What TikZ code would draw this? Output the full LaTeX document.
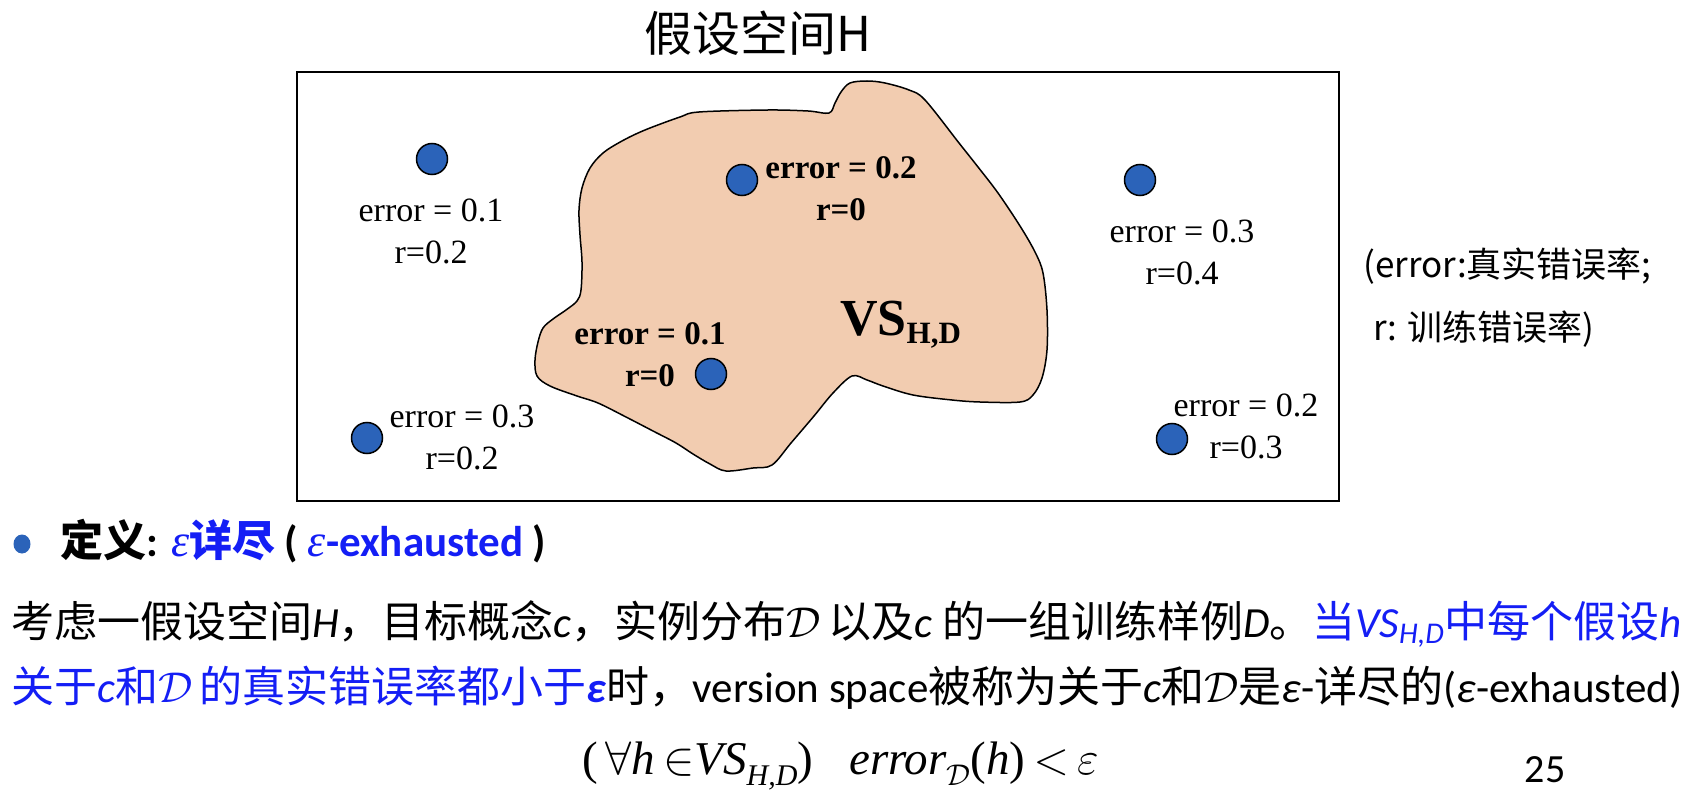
\RequirePackage{fix-cm}
\documentclass[tikz,border=0pt]{standalone}
\usepackage{fontspec}
\usetikzlibrary{shapes.geometric}
\setmainfont{Carlito}
\newfontfamily\cjk{Noto Sans CJK SC}
\newfontfamily\tms{Liberation Serif}
\definecolor{dotblue}{RGB}{43,99,185}
\definecolor{blobfill}{RGB}{242,204,176}
\definecolor{txtblue}{RGB}{20,30,245}
\newcommand{\lowsub}[1]{\raisebox{-11pt}{\fontsize{30}{30}\selectfont #1}}
\tikzset{
  hyp/.style={circle, draw=black, line width=1.5pt, fill=dotblue, minimum size=31pt, inner sep=0pt},
  lab/.style={align=center, inner sep=0pt, font=\tms\fontsize{34}{42}\selectfont},
  blab/.style={align=center, inner sep=0pt, font=\tms\bfseries\fontsize{33}{42}\selectfont},
  body/.style={anchor=base west, inner sep=0pt, font=\fontsize{43}{50}\selectfont},
  note/.style={anchor=base west, inner sep=0pt, font=\cjk\fontsize{35}{40}\selectfont},
  formula/.style={anchor=base west, inner sep=0pt, font=\tms\fontsize{47}{50}\selectfont},
}
\begin{document}
\begin{tikzpicture}[x=1pt,y=-1pt]
\useasboundingbox (0,0) rectangle (1694,794);
% title
\node[anchor=base, inner sep=0pt, font=\cjk\fontsize{48}{48}\selectfont] (title) at (758,52) {假设空间H};
% hypothesis space frame
\draw[line width=2.5pt] (297,72) rectangle (1339,501);
% version space blob
\draw[line width=1.5pt, fill=blobfill] plot[smooth cycle, tension=0.55] coordinates {
(829,113) (808,111) (768,110) (699,112) (680,117) (645,130) (622,141) (603,153)
(590,168) (582,188) (579,210) (580,235) (582,262) (581,290) (577,301) (566,310)
(553,319) (543,328) (538,342) (535,360) (537,376) (550,386) (577,396) (598,403)
(626,417) (653,431) (676,443) (693,454) (710,464) (726,471) (753,468) (772,465)
(791,443) (814,416) (833,393) (852,376) (867,380) (883,386) (913,395) (952,400)
(980,402) (1020,402) (1033,395) (1042,378) (1047,350) (1047,310) (1043,273)
(1035,252) (1020,226) (998,193) (978,167) (959,143) (925,100) (909,90) (885,83)
(867,81) (850,83) (841,92) (835,103)};
% hypotheses
\node[hyp] (h1) at (432,159) {};
\node[hyp] (h2) at (742,180) {};
\node[hyp] (h3) at (1140,180) {};
\node[hyp] (h4) at (711,374) {};
\node[hyp] (h5) at (367,438) {};
\node[hyp] (h6) at (1172,439) {};
% labels
\node[lab] (l1) at (431,231) {error = 0.1\\r=0.2};
\node[blab] (l2) at (841,189) {error = 0.2\\r=0};
\node[lab] (l3) at (1182,252) {error = 0.3\\r=0.4};
\node[blab] (l4) at (650,355) {error = 0.1\\r=0};
\node[lab] (l5) at (462,437) {error = 0.3\\r=0.2};
\node[lab] (l6) at (1246,426) {error = 0.2\\r=0.3};
\node[anchor=base west, inner sep=0pt, font=\tms\bfseries] (vs) at (840,335) {\fontsize{52}{52}\selectfont VS\raisebox{-8.5pt}{\fontsize{31}{31}\selectfont H,D}};
% side note
\node[note] (n1) at (1363,277) {(error:真实错误率;};
\node[note] (n2) at (1373,340) {r: 训练错误率)};
% definition
\node[ellipse, fill=dotblue, minimum width=17pt, minimum height=19pt, inner sep=0pt] (bul) at (22,544) {};
\node[body, font=\bfseries\fontsize{43}{50}\selectfont] (def) at (60,556) {{\cjk 定义}: \textcolor{txtblue}{{\tms\mdseries\itshape\fontsize{46}{50}\selectfont ε}{\cjk 详尽}} ( \textcolor{txtblue}{{\tms\mdseries\itshape\fontsize{46}{50}\selectfont ε}-exhausted} )};
\node[body] (t1) at (11,637) {{\cjk 考虑一假设空间}\textit{H}{\cjk ，目标概念}\textit{c}{\cjk ，实例分布}$\mathcal{D}$\,{\cjk 以及}\textit{c} {\cjk 的一组训练样例}\textit{D}{\cjk 。}\textcolor{txtblue}{{\cjk 当}\textit{VS}\textsubscript{\textit{H,D}}{\cjk 中每个假设}\textit{h}}};
\node[body] (t2) at (11,702) {\textcolor{txtblue}{{\cjk 关于}\textit{c}{\cjk 和}$\mathcal{D}$\,{\cjk 的真实错误率都小于}\textbf{\textit{ε}}}{\cjk 时，}version space{\cjk 被称为关于}\textit{c}{\cjk 和}$\mathcal{D}${\cjk 是}\textit{ε}-{\cjk 详尽的}(\textit{ε}-exhausted)};
% formula
\node[formula] (f1) at (582,774) {(\,$\forall$\textit{h}\,$\in$\textit{VS}\lowsub{\textit{H,D}})};
\node[formula] (f2) at (849,774) {\textit{error}\lowsub{$\mathcal{D}$}(\textit{h})\,$<$\,$\varepsilon$};
\node[anchor=base, inner sep=0pt, font=\fontsize{40}{40}\selectfont] (pg) at (1545,782) {25};
\end{tikzpicture}
\end{document}
